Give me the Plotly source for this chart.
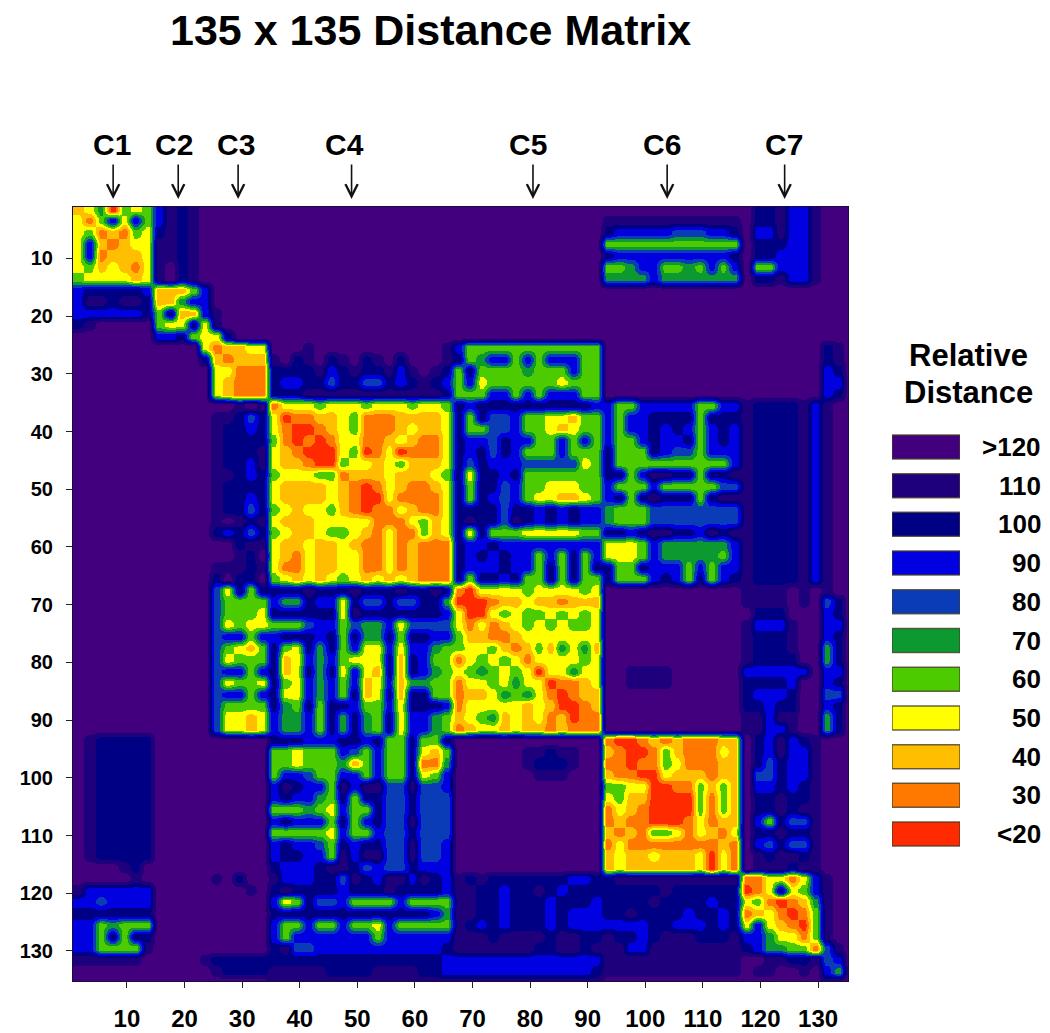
import plotly.graph_objects as go

# legend classes
class_labels = [">120", "110", "100", "90", "80", "70", "60", "50", "40", "30", "<20"]
class_values = [120, 110, 100, 90, 80, 70, 60, 50, 40, 30, 20]
class_colors = ["#42007e", "#1f007c", "#000084", "#0000e0", "#0a3cb8", "#0c9a30",
                "#4ccc00", "#ffff00", "#ffbe00", "#ff7800", "#ff2a00"]
class_codes = ".INBCGLYAOR"

# widths of the blocks in a row (cells are 2 residues wide)
block_widths = [7, 5, 5, 16, 13, 12, 7, 3]

# distance classes, a row of cells per line, blocks split by spaces
matrix_rows = [
    "AYGRLYL BINI. ..... ................ ............. ............ .NNIBBI ...",
    "YOLBYBL BINI. ..... ................ ............. IIIIIIIIIIII .NNIBBI ...",
    "YLOAOLY NINI. ..... ................ ............. NBBBBBCCCBBN .BBIBBI ...",
    "YBAOAYY IINI. ..... ................ ............. LLLLLLLLLLLL .NNNBBI ...",
    "YBOAAAY IINI. ..... ................ ............. NBBBBBBBBBBN .NNBBBI ...",
    "YLAYAOY I.NI. ..... ................ ............. LLGBBLLGLBLB .LLBBBI ...",
    "LYYYYAY I.NI. ..... ................ ............. GGGGBGGGGGGG .NNIBBI ...",
    "BNNNNNB AAALB ..... ................ ............. ............ ....... ...",
    "BIINIIN AAGBB ..... ................ ............. ............ ....... ...",
    "BBBBBBN LNAAB I.... ................ ............. ............ ....... ...",
    "NI..... LYYNY I.... ................ ............. ............ ....... ...",
    "....... BBNLY YN... ................ ............. ............ ....... ...",
    "....... ....Y OAAYY ...I...........I BLLLLLLLLLLLL ............ ....... NI.",
    "....... ....N AOAAA I.NI.NI.NI.N...I NLGBBLBLBBBLL ............ ....... NI.",
    "....... ..... YYOOO NNNNIBNINNIBI.IN LNLLLLGLLLBLL ............ ....... BN.",
    "....... ..... YAOOO NBBNNCNNCCNBNINB LBYLLLLLLYLLL ............ ....... BB.",
    "....... ..... YAOOO NNNIIIIIIIIIIIIN LLLBBLBLBBBLL ............ ....... BN.",
    "....... ..... ..I.I OYYYLYYYLYYYLYYL NBNNNNNNNNNNB BLLBBBBBLLBB INNNNIB I..",
    "....... ..... IINCN YROOAAYLOOOAAAAY NLNCCBLLYYALL BLBBNNNNLNNN INNNNIB I..",
    "....... ..... INNBN YORROAYLOOOAYAAY NLLCCBLLYAYLL BLBBNBNBLBNB INNNNIB I..",
    "....... ..... INNNN LOROROYYOOAYAOOY NBBCNBBLLBLBL BLLBNBBNLBNB INNNNIB I..",
    "....... ..... INNNI YAORRRYLROYROOOY NBNCNBLLLBLLL NLLLNBCCLBBB INNNNIB I..",
    "....... ..... INNBI YAAORRLYYAYLAAAY NCNBBBCCCCCYL NLLLLLLLLLLB INNNNIB I..",
    "....... ..... IINBN LYYYLLOAAAYAAAYL NYNNBNLLLLLLL NNLBIINNLNNI INNNNIB I..",
    "....... ..... INNNN YAAAAYAOROYAOOAY NLNNCBLLYYYLL BLLLBLLLLLCC INNNNIB I..",
    "....... ..... INNBN YAAAAYAORRYOOOOY NLNBCBLYYAAYL BNLNINNNLNII INNNNIB I..",
    "....... ..... INNCN LYAYYLAOROOYAOOY NNNNCNNBNBNBB GLLLCCCCCCCC INNNNIB I..",
    "....... ..... I.INI YAAAYYYYYOOOYLAY NINNCINBNBNBB GLLLCCCCCCCC INNNNIB I..",
    "....... ..... NBNCN LYAAYLLYAOYOOLAY NYNLLLYYYYYLL NNBNIINNBINI INNNNIB I..",
    "....... ..... ..NII YAAYAAYAOOYOAOOO NBBNBBBBBBBBB YYYLBGGGGGGB INNNNIB I..",
    "....... ..... ..IN. YAOYAAYYOOYOAOOO NBNBNBBLBLNLB YYYLBGGGGGLB INNNNIB I..",
    "....... ..... IIINI YOOYAAYYOOYOAOOO NBBBNBBLNLNLN NLLNBBBLBLBB INNNNIB I..",
    "....... ..... N.NN. LYAYAYLYAYAYAOOO NLNNBNLLNLNLL NLLLBNBLNLBN INNNNIB I..",
    "....... ..... CYNLN NNNINNNINNNINNIN ORYYYYLYYYYLY ............ IIII.I. I..",
    "....... ..... CLLLL BGGNBBYNCCNCCNNG RRROAAYAAOAAA ............ IIII.I. CN.",
    "....... ..... CLLLY NNNNNNYINNNNNNNB YRRYLYLLYLYLY ............ .NNN... BN.",
    "....... ..... CYLYY LLLCBBLCGGBYCCCC YOYOAYLYLYLLY ............ IBBBI.. BB.",
    "....... ..... CBBLB BNNNBNLNGGNLNNBB LAAOOAYYYYYYY ............ INNNI.. BN.",
    "....... ..... CLYAL NLYNGNLBYYBYBBGL LYYLAOALAGYGA ............ INNNI.. GN.",
    "....... ..... CYLLL NAYBGBLYYYNANBLL OYLYLYOYYYYLY ............ INNNN.. GN.",
    "....... ..... CBBLB NAYNGNYBYANANBGL YLGLYLYRYYGYY ..IIII...... BBBBBB. BB.",
    "....... ..... CYLLY NLYBGBLBAYBAGGLL OYYLYGYYROOAY ..IIII...... NNNNB.. BN.",
    "....... ..... CBBLB NYYBGBLNAYNANNLL OAAYGLGYOROAA ............ NBBBN.. CC.",
    "....... ..... CLLLL NGLNLNNBLLBYNNNB OYYYYYAYARROA ............ NNBNN.. BN.",
    "....... ..... CYYAY BGGBLNGNGLNYBBGL AYLGAYAYOAROO ............ IIBII.. GN.",
    "....... ..... CYYAY BGGBLNGNGLNYBBGL OAYYAYAAOAOOO ............ IIBBI.. GN.",
    ".INNNNN ..... ..... NNNBBBNNBNLLNLLN ............. ORROAOAOOOAA .NBIBNI ...",
    ".INNNNN ..... ..... LLYLLLBCLBLLNYAL ......IINII.. AORROLAOOOYA .NBIBBI ...",
    ".INNNNN ..... ..... LLYLLLGALBLLNOOG ......INNNI.. OOROOLYOOOAA .NCNBBI ...",
    ".INNNNN ..... ..... LBBCLLBBLBLLNYLB .......III... AOORRYAAAOAA .CCNBBI ...",
    ".INNNNN ..... ..... BINBBLIBIICCICCB ............. LLYYRROOLALA .BBNBNI ...",
    ".INNNNN ..... ..... BNBBGLNLNNCCNCCC ............. YLAARRRRLOLA .NNINNI ...",
    ".INNNNN ..... ..... LLLGLYBLLNCCNCCC ............. OYAORRRRLOLA .NNINII ...",
    ".INNNNN ..... ..... BNBBBLNLBNCCICCC ............. OAOORRROYOAA .BLNCCI ...",
    ".INNNNN ..... ..... LLLLLYBLLBCCNCCC ............. AOAOLLYOYAOY .NNINNI ...",
    ".INNNNN ..... ..... BNBBCLNBNNCCICCB ............. OYOOOOOOOOAO .BCNCCI ...",
    ".INNNNN ..... ..... BNNBBLIBIICCICCB ............. AYAAYAAAYRYO .INIINI ...",
    "....IN. ..... ..... NBBBNIINCBCCNBBB ............. AYAAAAAAYRYO .IIINII ...",
    ".....I. ..... I.N.. IBBBNNCINBIIBINB ININNNNNNNBBN NIIIIIIIIIII OOYYOYB I..",
    "IBBBBBB ..... ...I. NINNNNBNNNINNNNB IINNBNNINBNNN NNNNNINNNNNN ROYNYLB I..",
    "BBCBBBB ..... ..... BYLNCCBLLLLBLLLL IINNBNNNBNNNB NNNNINNNNBNN YLOROAG I..",
    "NNNNNNN ..... ..... NNNNNNNNNNNNNNBG IINNBNNNBNBBB NNINNNNBNNBN OAYOROL I..",
    "BBLGLLL ..... ..... BLLBLLBLLYBLLLLL INBNBNNNBNBBB BBBBNNBBBNBN YBYAORL I..",
    "BBLNLNN ..... ..... BLBBBBBBBLBBBBBB IIINIIIINIINN INNBNIIINNNI BBGYYOL I..",
    "BBLLLLI ..... ..... NICCBBBBBBBBBBBN IIIIIIINNIINI IIBBIIIIIIII NBGGLLO CI.",
    "IIIIII. ....I NNNNN NNNNNNNNNNNNNNNB BBBBBBBBBBBBB IIIIIIIIIIII ..IINNI CB.",
    "....... ..... INNNN IIIIINNNNIIIINNB BBBBBBBBBBBBN IIIIIIIIIIII .II..I. BG.",
    "....... ..... ..... IIIIIIIIIIIIIIII IIIIIIIIIIIII ............ ....... I..",
]

tick_values = [10, 20, 30, 40, 50, 60, 70, 80, 90, 100, 110, 120, 130]

clusters = ["C1", "C2", "C3", "C4", "C5", "C6", "C7"]
cluster_label_pos = [7.4, 18.2, 28.9, 47.7, 79.6, 102.9, 124.1]
cluster_arrow_pos = [7.6, 18.9, 29.3, 49.0, 80.5, 103.8, 124.2]

W, H = 1050, 1033
FONT = "Liberation Sans"

code_to_value = dict(zip(class_codes, class_values))
z = []
for row in matrix_rows:
    segs = row.split(" ")
    for s, w in zip(segs, block_widths):
        if len(s) != w:
            print("bad segment", row, s)
    cells = "".join(s.ljust(w, ".")[:w] for s, w in zip(segs, block_widths))
    # every cell goes in twice, close to its centre, so the smoothing stays tight
    values = [code_to_value[c] for c in cells for _ in range(2)]
    z.append(values)
    z.append(values)
residues = []
for k in range(len(matrix_rows)):
    residues += [2 * k + 1.25, 2 * k + 1.75]
residues[0] = 0.5  # first cell reaches the axis edge

# stepped colour scale, one band per class
zmin, zmax = 15, 125
asc_colors = class_colors[::-1]
colorscale = []
for i, c in enumerate(asc_colors):
    colorscale.append([i / 11, c])
    colorscale.append([(i + 1) / 11, c])

fig = go.Figure()

fig.add_trace(go.Heatmap(
    x=residues, y=residues, z=z,
    zmin=zmin, zmax=zmax, colorscale=colorscale,
    zsmooth="best", showscale=False, hoverinfo="skip",
))

# colour key
fig.add_trace(go.Bar(
    x=[1] * len(class_values), y=class_values, orientation="h",
    width=6.2,
    marker=dict(color=class_colors, line=dict(color="rgba(70,60,40,0.8)", width=1.5)),
    xaxis="x2", yaxis="y2", hoverinfo="skip", showlegend=False,
))

fig.update_layout(
    width=W, height=H,
    margin=dict(l=0, r=0, t=0, b=0),
    paper_bgcolor="white", plot_bgcolor="white",
    font=dict(family=FONT, color="black"),
    showlegend=False,
    xaxis=dict(
        domain=[73 / W, 848 / W], range=[0.63, 135.2],
        tickmode="array", tickvals=tick_values, ticks="outside", ticklen=6,
        tickcolor="#222", ticklabelstandoff=10,
        tickfont=dict(size=24, family=FONT, weight="bold"),
        showgrid=False, zeroline=False, showline=True, mirror=True, linecolor="#1a0a40",
    ),
    yaxis=dict(
        domain=[1 - 981 / H, 1 - 207 / H], range=[135.2, 1.1],
        tickmode="array", tickvals=tick_values, ticks="outside", ticklen=6,
        tickcolor="#222", ticklabelstandoff=9,
        tickfont=dict(size=20, family=FONT, weight="bold"),
        showgrid=False, zeroline=False, showline=True, mirror=True, linecolor="#1a0a40",
    ),
    xaxis2=dict(domain=[892 / W, 960 / W], range=[0, 1], visible=False, anchor="y2"),
    yaxis2=dict(domain=[1 - 853.4 / H, 1 - 427.6 / H], range=[15, 125],
                visible=False, anchor="x2"),
)

annotations = [
    dict(text="<b>135 x 135 Distance Matrix</b>", x=430 / W, y=1 - 30 / H,
         xref="paper", yref="paper", xanchor="center", yanchor="middle",
         showarrow=False, font=dict(size=43)),
    dict(text="<b>Relative</b>", x=968 / W, y=1 - 355 / H,
         xref="paper", yref="paper", xanchor="center", yanchor="middle",
         showarrow=False, font=dict(size=31)),
    dict(text="<b>Distance</b>", x=968 / W, y=1 - 393 / H,
         xref="paper", yref="paper", xanchor="center", yanchor="middle",
         showarrow=False, font=dict(size=31)),
]
for name, lx, ax in zip(clusters, cluster_label_pos, cluster_arrow_pos):
    annotations.append(dict(text="<b>%s</b>" % name, x=lx, y=1 - 144 / H, xref="x", yref="paper",
                            xanchor="center", yanchor="middle",
                            showarrow=False, font=dict(size=30)))
    annotations.append(dict(text="", x=ax, y=1 - 199 / H, xref="x", yref="paper",
                            showarrow=True, ax=0, ay=-36, arrowhead=5, arrowsize=1.5,
                            arrowwidth=1.6, arrowcolor="#111"))
for lab, val in zip(class_labels, class_values):
    annotations.append(dict(text="<b>%s</b>" % lab, x=1043 / W, y=val, xref="paper", yref="y2",
                            xanchor="right", yanchor="middle",
                            showarrow=False, font=dict(size=26)))
fig.update_layout(annotations=annotations)

# page body has a default margin, drop it so the figure sits at 0,0
fig.write_html("out.html", config=dict(displayModeBar=False),
               post_script="document.body.style.margin='0';")
